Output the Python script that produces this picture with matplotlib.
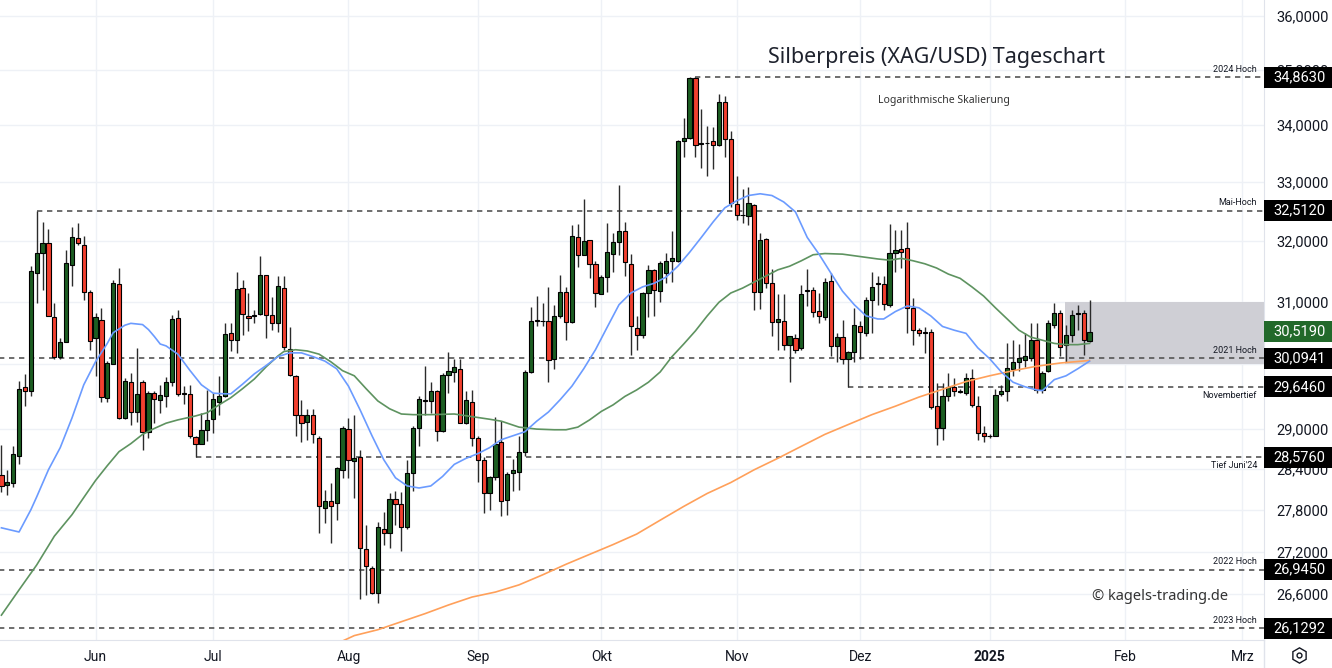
import numpy as np
import matplotlib
matplotlib.use("Agg")
import matplotlib.pyplot as plt
import matplotlib.transforms as mtransforms
from matplotlib.patches import Rectangle
from matplotlib.lines import Line2D
from matplotlib.ticker import NullLocator, NullFormatter

plt.rcParams["font.family"] = ["Roboto", "DejaVu Sans"]

# daily candles, first one = 2024-05-10
open_ = [28.31, 28.17, 28.19, 28.60, 29.65, 29.59, 31.47, 31.80, 31.96, 30.75,
         30.12, 30.36, 31.60, 32.05, 31.93, 31.16, 30.41, 30.70, 29.47, 30.00,
         31.29, 29.17, 29.72, 29.26, 29.72, 28.96, 29.55, 29.45, 29.51, 29.72,
         30.73, 29.55, 29.53, 28.88, 28.78, 28.98, 29.15, 29.42, 29.51, 30.49,
         30.39, 31.22, 30.76, 30.76, 30.80, 31.44, 30.78, 30.66, 31.23, 30.24,
         29.82, 29.22, 29.11, 29.22, 28.87, 27.83, 27.93, 27.90, 28.39, 29.00,
         28.52, 28.58, 27.24, 26.97, 26.61, 27.53, 27.47, 27.96, 27.88, 27.55,
         28.34, 29.02, 29.45, 29.43, 29.58, 28.97, 29.83, 29.88, 29.92, 29.10,
         29.42, 28.87, 28.53, 28.04, 28.28, 28.80, 27.95, 28.34, 28.36, 28.66,
         29.88, 30.70, 30.69, 30.68, 30.08, 30.76, 31.16, 30.67, 32.06, 31.77,
         32.01, 31.62, 31.13, 31.41, 31.79, 31.98, 32.17, 31.62, 30.58, 30.47,
         31.14, 31.52, 31.18, 31.46, 31.66, 31.66, 33.71, 33.78, 34.85, 33.66,
         33.68, 33.71, 33.65, 34.42, 33.76, 32.63, 32.43, 32.42, 32.60, 31.16,
         32.03, 31.30, 30.67, 30.69, 30.31, 30.42, 30.26, 31.17, 31.19, 30.85,
         30.75, 31.34, 30.29, 30.43, 30.09, 30.20, 30.60, 30.50, 31.02, 31.30,
         31.29, 30.95, 31.80, 31.86, 31.88, 30.90, 30.55, 30.51, 30.51, 29.36,
         29.02, 29.51, 29.65, 29.58, 29.56, 29.78, 29.36, 28.94, 28.89, 28.90,
         29.53, 29.58, 29.93, 30.03, 30.07, 30.10, 30.39, 29.60, 29.89, 30.62,
         30.81, 30.30, 30.46, 30.80, 30.82, 30.37]
high = [28.76, 28.39, 28.75, 29.74, 29.85, 31.58, 32.51, 32.32, 32.20, 30.98,
        30.41, 31.85, 32.24, 32.30, 32.09, 31.19, 30.82, 30.90, 30.05, 31.35,
        31.55, 29.78, 29.86, 30.26, 29.75, 29.59, 29.58, 29.68, 29.80, 30.79,
        30.86, 29.66, 29.68, 28.89, 29.25, 29.60, 29.55, 29.82, 30.65, 30.65,
        31.48, 31.35, 31.14, 30.87, 31.75, 31.44, 31.08, 31.42, 31.42, 30.59,
        29.83, 29.45, 29.31, 29.31, 28.90, 28.09, 28.19, 28.43, 29.04, 29.17,
        29.22, 28.69, 27.58, 27.00, 27.62, 27.77, 28.05, 28.07, 28.06, 28.54,
        29.04, 29.50, 29.97, 29.73, 29.60, 29.86, 30.19, 30.09, 30.09, 29.58,
        29.60, 28.90, 28.58, 28.29, 29.19, 29.13, 28.36, 28.55, 28.90, 29.91,
        30.92, 31.09, 30.98, 31.24, 30.95, 31.44, 31.24, 32.26, 32.28, 32.71,
        32.02, 31.67, 31.44, 32.30, 32.13, 32.95, 32.32, 31.79, 30.76, 31.16,
        31.60, 31.53, 31.66, 31.80, 32.17, 33.74, 34.12, 34.86, 34.863, 34.28,
        33.98, 33.96, 34.56, 34.53, 33.89, 33.11, 32.89, 32.91, 32.62, 32.14,
        32.05, 31.54, 31.13, 31.13, 30.45, 30.48, 31.27, 31.53, 31.24, 31.14,
        31.38, 31.46, 30.50, 30.70, 30.21, 30.90, 30.68, 31.07, 31.48, 31.42,
        31.42, 32.28, 32.19, 32.19, 32.32, 31.06, 30.57, 30.59, 30.56, 29.71,
        29.71, 29.87, 29.78, 29.62, 29.87, 29.92, 29.50, 29.04, 28.92, 29.61,
        29.68, 30.34, 30.39, 30.32, 30.49, 30.65, 30.65, 29.90, 30.70, 30.98,
        30.87, 30.62, 30.87, 30.95, 30.87, 31.02]
low = [28.06, 28.01, 28.13, 28.48, 29.35, 29.50, 30.98, 31.19, 30.76, 30.09,
       30.08, 30.35, 31.26, 31.93, 31.03, 30.23, 29.81, 29.41, 29.42, 30.00,
       29.15, 29.15, 29.06, 29.11, 28.68, 28.87, 29.09, 29.25, 29.34, 29.66,
       29.50, 29.39, 28.87, 28.576, 28.77, 28.82, 28.94, 29.22, 29.49, 30.21,
       30.18, 30.47, 30.53, 30.65, 30.79, 30.42, 30.54, 30.51, 30.23, 29.81,
       28.89, 28.80, 28.84, 28.79, 27.47, 27.61, 27.32, 27.65, 28.27, 28.26,
       27.97, 26.53, 26.59, 26.60, 26.48, 27.29, 27.25, 27.58, 27.21, 27.52,
       28.07, 28.75, 29.22, 29.25, 28.82, 28.96, 29.55, 29.72, 29.09, 29.07,
       28.74, 28.21, 27.76, 27.80, 28.24, 27.71, 27.72, 28.08, 28.09, 28.59,
       29.87, 30.60, 30.60, 29.72, 29.92, 30.74, 30.39, 30.65, 31.57, 31.76,
       31.38, 30.92, 31.12, 31.16, 31.49, 31.77, 31.42, 30.15, 30.23, 30.42,
       30.75, 30.76, 31.00, 31.31, 31.32, 31.65, 33.44, 33.76, 33.44, 33.25,
       33.10, 33.23, 33.63, 33.44, 32.58, 32.36, 32.31, 32.26, 30.86, 30.88,
       31.22, 30.45, 30.23, 30.23, 29.72, 30.18, 30.23, 30.93, 30.75, 30.65,
       30.70, 30.13, 30.03, 30.00, 29.646, 30.03, 30.08, 30.45, 30.50, 30.95,
       30.86, 30.92, 31.48, 31.55, 30.50, 30.31, 30.45, 30.18, 29.30, 28.76,
       28.83, 29.43, 29.51, 29.55, 29.52, 29.34, 28.83, 28.81, 28.87, 28.89,
       29.51, 29.43, 29.81, 29.90, 29.95, 30.05, 29.55, 29.55, 29.88, 30.58,
       30.13, 30.03, 30.35, 30.55, 30.15, 30.35]
close = [28.15, 28.21, 28.63, 29.62, 29.59, 31.50, 31.80, 31.96, 30.77, 30.12,
         30.36, 31.63, 32.07, 31.97, 31.16, 30.37, 30.75, 29.49, 30.02, 31.30,
         29.17, 29.74, 29.26, 29.54, 28.96, 29.55, 29.46, 29.52, 29.72, 30.72,
         29.54, 29.54, 28.89, 28.78, 28.99, 29.14, 29.46, 29.51, 30.48, 30.39,
         31.20, 30.80, 30.74, 30.78, 31.44, 30.78, 30.66, 31.25, 30.28, 29.83,
         29.22, 29.09, 29.22, 28.93, 27.85, 27.93, 27.86, 28.41, 29.02, 28.53,
         28.56, 27.25, 26.99, 26.61, 27.55, 27.47, 27.96, 27.89, 27.55, 28.34,
         29.02, 29.46, 29.43, 29.59, 28.97, 29.83, 29.89, 29.96, 29.10, 29.45,
         28.87, 28.54, 28.05, 28.28, 28.78, 27.93, 28.33, 28.39, 28.66, 29.88,
         30.69, 30.69, 30.68, 30.06, 30.77, 31.16, 30.67, 32.09, 31.77, 32.00,
         31.62, 31.14, 31.41, 31.81, 31.98, 32.17, 31.65, 30.60, 30.47, 31.14,
         31.52, 31.19, 31.63, 31.66, 31.71, 33.71, 33.77, 34.85, 33.64, 33.68,
         33.69, 33.65, 34.42, 33.76, 32.64, 32.44, 32.44, 32.64, 31.16, 32.02,
         31.30, 30.67, 30.72, 30.31, 30.44, 30.22, 31.12, 31.19, 30.84, 30.76,
         31.32, 30.29, 30.43, 30.08, 30.19, 30.62, 30.51, 31.02, 31.24, 31.29,
         30.96, 31.80, 31.85, 31.82, 30.90, 30.55, 30.50, 30.50, 29.34, 29.02,
         29.50, 29.64, 29.59, 29.57, 29.79, 29.37, 28.94, 28.89, 28.90, 29.52,
         29.58, 29.94, 30.04, 30.10, 30.13, 30.39, 29.60, 29.87, 30.65, 30.81,
         30.28, 30.46, 30.78, 30.81, 30.39, 30.519]

# moving averages (candle index, price)
sma20_idx = [0, 3, 5, 6, 8, 10, 12, 14, 16, 18, 19, 21, 22, 24, 25, 26, 27, 28, 30,
             32, 34, 36, 38, 39, 41, 43, 45, 47, 49, 51, 53, 55, 57, 59, 61, 63,
             65, 67, 69, 71, 73, 75, 77, 79, 81, 83, 85, 87, 89, 91, 93, 95, 97,
             99, 101, 103, 105, 107, 109, 111, 113, 115, 117, 119, 121, 123, 125,
             127, 129, 131, 133, 135, 137, 139, 141, 143, 145, 147, 149, 150, 152,
             154, 156, 158, 160, 162, 164, 166, 168, 170, 172, 174, 176, 177, 179,
             181, 183, 185]
sma20_val = [27.54, 27.48, 27.80, 27.99, 28.39, 28.72, 29.17, 29.68, 30.04, 30.33,
             30.50, 30.62, 30.65, 30.63, 30.55, 30.44, 30.32, 30.29, 30.16, 29.91,
             29.68, 29.55, 29.54, 29.54, 29.69, 29.85, 29.98, 30.12, 30.18, 30.18,
             30.12, 30.05, 29.93, 29.66, 29.29, 28.90, 28.54, 28.27, 28.15, 28.12,
             28.15, 28.29, 28.47, 28.56, 28.63, 28.72, 28.84, 28.90, 28.96, 29.12,
             29.26, 29.45, 29.66, 29.93, 30.23, 30.59, 30.95, 31.14, 31.24, 31.30,
             31.40, 31.58, 31.81, 32.06, 32.32, 32.56, 32.68, 32.77, 32.80, 32.77,
             32.66, 32.49, 32.06, 31.78, 31.47, 31.17, 30.95, 30.77, 30.72, 30.72,
             30.84, 30.93, 30.90, 30.77, 30.60, 30.54, 30.49, 30.26, 30.09, 29.88,
             29.72, 29.65, 29.60, 29.59, 29.76, 29.82, 29.93, 30.05]
sma50_idx = [0, 3, 6, 9, 12, 14, 16, 18, 20, 22, 24, 26, 28, 30, 33, 35, 37, 39, 41,
             43, 45, 47, 48, 50, 52, 54, 56, 58, 60, 62, 64, 66, 68, 70, 73, 77,
             80, 83, 85, 88, 91, 94, 96, 98, 100, 102, 104, 106, 108, 110, 112,
             114, 116, 118, 120, 122, 124, 126, 128, 130, 132, 134, 136, 138, 140,
             143, 146, 149, 151, 153, 155, 157, 159, 161, 163, 165, 167, 169, 171,
             173, 175, 177, 179, 181, 183, 185]
sma50_val = [26.31, 26.66, 27.01, 27.42, 27.73, 27.98, 28.23, 28.45, 28.66, 28.78,
             28.92, 29.01, 29.09, 29.14, 29.20, 29.25, 29.37, 29.48, 29.62, 29.77,
             29.96, 30.13, 30.20, 30.23, 30.21, 30.16, 30.04, 29.90, 29.82, 29.62,
             29.43, 29.31, 29.23, 29.22, 29.22, 29.23, 29.19, 29.15, 29.12, 29.03,
             29.00, 28.99, 28.99, 29.03, 29.14, 29.27, 29.37, 29.50, 29.60, 29.72,
             29.88, 30.12, 30.32, 30.53, 30.77, 30.99, 31.14, 31.22, 31.32, 31.42,
             31.52, 31.58, 31.67, 31.77, 31.79, 31.78, 31.74, 31.70, 31.68, 31.71,
             31.67, 31.62, 31.55, 31.45, 31.38, 31.24, 31.09, 30.90, 30.72, 30.54,
             30.43, 30.38, 30.33, 30.31, 30.31, 30.33]
sma200_idx = [57, 60, 64, 68, 72, 76, 80, 84, 88, 92, 96, 100, 104, 108, 112, 116,
              120, 124, 128, 132, 136, 140, 144, 148, 152, 156, 160, 164, 168, 172,
              176, 180, 185]
sma200_val = [25.92, 26.03, 26.11, 26.22, 26.33, 26.45, 26.56, 26.63, 26.73, 26.87,
              27.02, 27.16, 27.30, 27.45, 27.65, 27.85, 28.04, 28.20, 28.39, 28.56,
              28.74, 28.92, 29.07, 29.22, 29.35, 29.49, 29.61, 29.73, 29.82, 29.90,
              29.97, 30.02, 30.06]

# horizontal levels
level_names = ["2024 Hoch", "Mai-Hoch", "2021 Hoch", "Novembertief",
               "Tief Juni'24", "2022 Hoch", "2023 Hoch"]
level_values = [34.863, 32.512, 30.0941, 29.646, 28.576, 26.945, 26.1292]
level_from = [118, 6, None, 144, 33, None, None]
level_above = [True, True, True, False, False, True, True]

zone_low, zone_high = 30.0, 31.0

price_ticks = [36, 35, 34, 33, 32, 31, 30, 29, 28.4, 27.8, 27.2, 26.6]
hidden_ticks = [30]  # covered by the 30,0941 box in the original
month_labels = ["Jun", "Jul", "Aug", "Sep", "Okt", "Nov", "Dez", "2025", "Feb", "Mrz"]
month_dates = ["2024-06-03", "2024-07-01", "2024-08-01", "2024-09-02", "2024-10-01",
               "2024-11-01", "2024-12-02", "2025-01-01", "2025-02-03", "2025-03-03"]
start_date = "2024-05-10"


def fmt(v):
    return f"{v:.4f}".replace(".", ",")


W, H = 1332, 668
ax_right_px, ax_bottom_px = 1264, 640
fig = plt.figure(figsize=(W / 100, H / 100), dpi=100)
fig.patch.set_facecolor("white")
ax = fig.add_axes([0, (H - ax_bottom_px) / H, ax_right_px / W, ax_bottom_px / H])

ymin, ymax = 25.97, 36.30
ax.set_yscale("log")
ax.set_ylim(ymin, ymax)
ax.set_xlim(-0.24, 214.66)

o = np.array(open_)
c = np.array(close)
hi = np.array(high)
lo = np.array(low)
x = np.arange(len(c))
up = c >= o
body_lo = np.minimum(o, c)
body_hi = np.maximum(o, c)

# highlighted zone
ax.add_patch(Rectangle((180.8, zone_low), 220 - 180.8, zone_high - zone_low,
                       facecolor="#cfcfd5", edgecolor="none", zorder=1))

# levels
for name, v, start, above in zip(level_names, level_values, level_from, level_above):
    x0 = -1 if start is None else start
    ax.hlines(v, x0, 220, colors="#555555", linestyles=(0, (3.2, 2.8)), lw=1.2, zorder=2)

ax.vlines(x, lo, hi, color="#2b2b2b", lw=1.0, zorder=3)
ax.bar(x[up], body_hi[up] - body_lo[up], bottom=body_lo[up], width=0.72,
       color="#1c5e22", edgecolor="black", lw=0.8, zorder=4)
ax.bar(x[~up], body_hi[~up] - body_lo[~up], bottom=body_lo[~up], width=0.72,
       color="#f2402f", edgecolor="black", lw=0.8, zorder=4)

ax.plot(sma200_idx, sma200_val, color="#ffa05a", lw=1.2, zorder=5)
ax.plot(sma50_idx, sma50_val, color="#5e9360", lw=1.2, zorder=5)
ax.plot(sma20_idx, sma20_val, color="#6b9bff", lw=1.2, zorder=5)

# axes styling
for s in ["top", "left"]:
    ax.spines[s].set_visible(False)
for s in ["right", "bottom"]:
    ax.spines[s].set_color("#e0e3eb")
ax.yaxis.tick_right()
ax.set_yticks(price_ticks)
ax.set_yticklabels(["" if v in hidden_ticks else fmt(v) for v in price_ticks])
ax.yaxis.set_minor_locator(NullLocator())
ax.yaxis.set_minor_formatter(NullFormatter())
ax.tick_params(axis="y", length=0, pad=9, labelsize=10.5, labelcolor="#131722")

month_pos = np.busday_count(start_date, month_dates)
ax.set_xticks(month_pos)
ax.set_xticklabels(month_labels)
ax.tick_params(axis="x", length=0, pad=7, labelsize=10, labelcolor="#131722")
ax.get_xticklabels()[7].set_fontweight("bold")
ax.grid(True, color="#eef1f6", lw=1)
ax.set_axisbelow(True)

# level labels inside plot
trans = mtransforms.blended_transform_factory(ax.transAxes, ax.transData)
for name, v, above in zip(level_names, level_values, level_above):
    ax.annotate(name, xy=(0.9945, v), xycoords=trans,
                xytext=(0, 2.5 if above else -3), textcoords="offset points",
                ha="right", va="bottom" if above else "top",
                fontsize=6.5, color="#131722", zorder=6)

# price boxes on the right axis
ftrans = mtransforms.blended_transform_factory(fig.transFigure, ax.transData)
half = np.exp(10.5 * np.log(ymax / ymin) / ax_bottom_px)
box_vals = level_values + [close[-1]]
box_cols = ["black"] * len(level_values) + ["#22692a"]
for v, col in zip(box_vals, box_cols):
    fig.add_artist(Rectangle((ax_right_px / W, v / half), (W - ax_right_px) / W,
                             v * half - v / half, transform=ftrans,
                             facecolor=col, edgecolor="none", zorder=5))
    fig.text((ax_right_px + 9) / W, v, fmt(v), transform=ftrans, ha="left",
             va="center", color="white", fontsize=10.5, zorder=6)

# separator line through the time axis
fig.add_artist(Line2D([ax_right_px / W] * 2, [0, (H - ax_bottom_px) / H],
                      color="#e0e3eb", lw=1))
# settings icon
fig.add_artist(Line2D([1299 / W], [1 - 655 / H], marker="h", ms=11, mfc="none",
                      mec="#131722", mew=1.0, transform=fig.transFigure))
fig.add_artist(Line2D([1299 / W], [1 - 655 / H], marker="o", ms=3.5, mfc="none",
                      mec="#131722", mew=1.0, transform=fig.transFigure))

fig.text(937 / W, 1 - 57 / H, "Silberpreis (XAG/USD) Tageschart", ha="center",
         va="center", fontsize=15.5, color="#1e222d", family=["Noto Sans", "DejaVu Sans"])
fig.text(944 / W, 1 - 101 / H, "Logarithmische Skalierung", ha="center",
         va="center", fontsize=7.5, color="#333333", family=["Noto Sans", "DejaVu Sans"])
fig.text(1228 / W, 1 - 597 / H, "© kagels-trading.de", ha="right", va="center",
         fontsize=10.5, color="#333333", family=["Noto Sans", "DejaVu Sans"])

fig.savefig("out.png", dpi=100)
